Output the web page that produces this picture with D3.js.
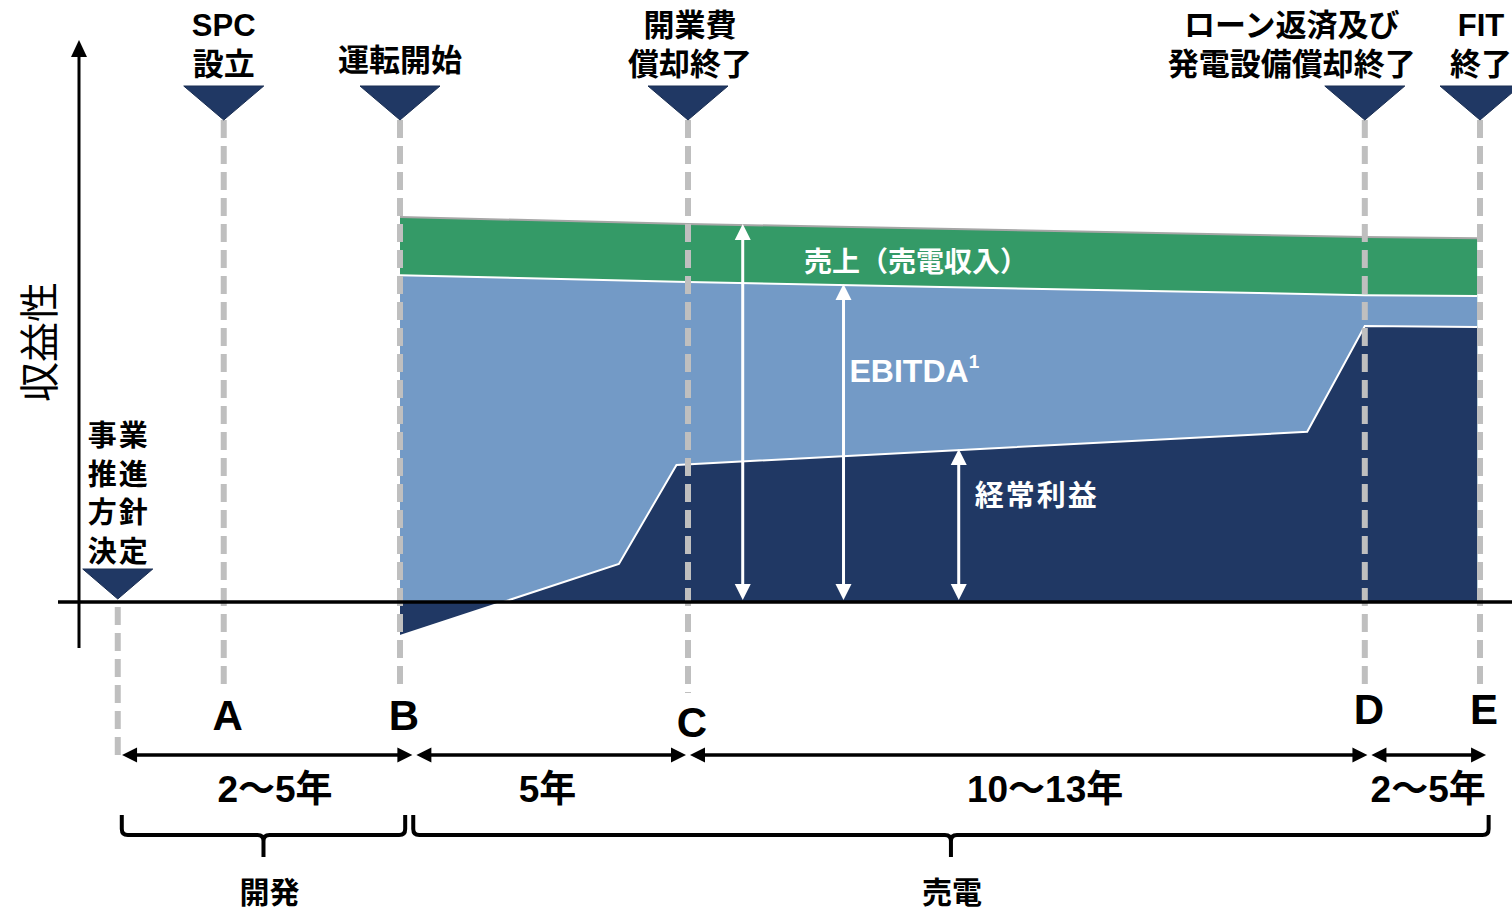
<!DOCTYPE html>
<html>
<head>
<meta charset="utf-8">
<script src="https://cdn.jsdelivr.net/npm/d3@7"></script>
<style>
  body { margin: 0; background: #fff; }
  svg { display: block; }
</style>
</head>
<body>
<div id="chart"></div>
<script>
// Milestones, in years from start of operation (B = 0)
const milestoneYears = [-4.9, -3.06, 0, 5, 16.75, 18.75];
const milestoneLabels = [
    ["事業", "推進", "方針", "決定"],
    ["SPC", "設立"],
    ["運転開始"],
    ["開業費", "償却終了"],
    ["ローン返済及び", "発電設備償却終了"],
    ["FIT", "終了"]
];
const milestoneLetters = ["", "A", "B", "C", "D", "E"];

// Revenue / EBITDA (index, first year sales = 100)
const seriesYears = [0, 5, 16.75, 18.7];
const salesValues = [100, 98.2, 94.8, 94.5];
const ebitdaValues = [84.9, 83.1, 79.7, 79.5];

// Ordinary profit
const profitYears = [0, 3.8, 4.8, 15.75, 16.75, 18.7];
const profitValues = [-8.8, 9.9, 35.6, 44.2, 71.7, 71.4];

// Durations along the bottom
const periodBounds = [[-4.86, 0.25], [0.25, 5.0], [5.0, 16.83], [16.83, 18.89]];
const periodLabels = ["2〜5年", "5年", "10〜13年", "2〜5年"];
const periodLabelYears = [-2.17, 2.56, 11.2, 17.85];

const phaseBounds = [[-4.83, 0.09], [0.23, 18.9]];
const phaseLabels = ["開発", "売電"];

// White measurement arrows: sales, EBITDA, ordinary profit
const arrowYears = [5.95, 7.7, 9.7];

const width = 1512, height = 915;
const LATIN = "'Liberation Sans', Arial, 'Noto Sans CJK JP', sans-serif";
const CJK = "'Noto Sans CJK JP', 'Noto Sans CJK SC', sans-serif";
const navy = "#203864", blue = "#739ac6", green = "#349a67", dashGray = "#bfbfbf";

const svg = d3.select("#chart")
    .append("svg")
    .attr("width", width)
    .attr("height", height);

// Scales
const x = d3.scaleLinear().domain([0, 5]).range([400, 688]);
const y = d3.scaleLinear().domain([0, 100]).range([602, 217]);

const salesAt = d3.scaleLinear().domain(seriesYears).range(salesValues);
const ebitdaAt = d3.scaleLinear().domain(seriesYears).range(ebitdaValues);
const profitAt = d3.scaleLinear().domain(profitYears).range(profitValues);

const sales = seriesYears.map((t, i) => [t, salesValues[i]]);
const ebitda = seriesYears.map((t, i) => [t, ebitdaValues[i]]);
const profit = profitYears.map((t, i) => [t, profitValues[i]]);

const area = d3.area().x(d => x(d[0])).y0(y(0)).y1(d => y(d[1]));
const line = d3.line().x(d => x(d[0])).y(d => y(d[1]));

// simple triangle arrow head, tip at (tx,ty) pointing along (dx,dy)
function head(g, tx, ty, dx, dy, len, half, color) {
    const bx = tx - dx * len, by = ty - dy * len;
    g.append("path")
        .attr("d", `M${tx},${ty}L${bx - dy * half},${by + dx * half}L${bx + dy * half},${by - dx * half}Z`)
        .attr("fill", color);
}

// Areas
svg.append("path").datum(sales).attr("d", area).attr("fill", green);
svg.append("path").datum(ebitda).attr("d", area).attr("fill", blue);
svg.append("path").datum(profit).attr("d", area).attr("fill", navy);

svg.append("path").datum(sales).attr("d", line)
    .attr("fill", "none").attr("stroke", "#a6a6a6").attr("stroke-width", 2);
svg.append("path").datum(ebitda).attr("d", line)
    .attr("fill", "none").attr("stroke", "#fff").attr("stroke-width", 2);
svg.append("path").datum(profit).attr("d", line)
    .attr("fill", "none").attr("stroke", "#fff").attr("stroke-width", 2);

// Dashed milestone lines
const dashStart = [607, 120, 120, 120, 120, 120];
const dashEnd = [755, 688, 688, 693, 684, 684];
milestoneYears.forEach((t, i) => {
    svg.append("line")
        .attr("x1", x(t)).attr("x2", x(t))
        .attr("y1", dashStart[i]).attr("y2", dashEnd[i])
        .attr("stroke", dashGray)
        .attr("stroke-width", 6)
        .attr("stroke-dasharray", "18,8");
});

// Axes
const axisX = 79;
svg.append("line")
    .attr("x1", axisX).attr("x2", axisX)
    .attr("y1", 54).attr("y2", 648)
    .attr("stroke", "#000").attr("stroke-width", 3);
head(svg, axisX, 40, 0, -1, 17, 8, "#000");

svg.append("line")
    .attr("x1", 58).attr("x2", width)
    .attr("y1", y(0)).attr("y2", y(0))
    .attr("stroke", "#000").attr("stroke-width", 3.5);

svg.append("text")
    .attr("transform", `translate(54,342) rotate(-90)`)
    .attr("text-anchor", "middle")
    .style("font-family", CJK)
    .style("font-size", "40px")
    .text("収益性");

// Triangles
milestoneYears.forEach((t, i) => {
    const cx = x(t);
    const top = i === 0 ? 569 : 86, tip = i === 0 ? 599 : 120, half = i === 0 ? 35 : 40;
    svg.append("path")
        .attr("d", `M${cx - half},${top}L${cx + half},${top}L${cx},${tip}Z`)
        .attr("fill", navy)
        .attr("stroke", "#1a2e52")
        .attr("stroke-width", 1);
});

// Milestone labels
milestoneLabels.forEach((lines, i) => {
    const cx = x(milestoneYears[i]);
    let lx, baselines, size, spacing = 0;
    if (i === 0) {
        lx = cx + 1; size = 29; spacing = 2;
        baselines = lines.map((d, j) => 446 + j * 38.5);
    } else {
        size = 31;
        lx = i === 4 ? cx - 73 : i === 5 ? cx + 1 : i === 3 ? cx + 2 : cx;
        baselines = lines.length === 1 ? [71] : [36, 75];
    }
    lines.forEach((txt, j) => {
        svg.append("text")
            .attr("x", lx)
            .attr("y", baselines[j])
            .attr("text-anchor", "middle")
            .style("font-family", LATIN)
            .style("font-weight", "bold")
            .style("font-size", size + "px")
            .style("letter-spacing", spacing + "px")
            .text(txt);
    });
});

// Letters A-E
const letterY = [0, 730, 730, 737, 724, 724];
milestoneLetters.forEach((l, i) => {
    if (!l) return;
    svg.append("text")
        .attr("x", x(milestoneYears[i]) + 4)
        .attr("y", letterY[i])
        .attr("text-anchor", "middle")
        .style("font-family", LATIN)
        .style("font-weight", "bold")
        .style("font-size", "42px")
        .text(l);
});

// White measurement arrows
const arrowTops = [salesAt(arrowYears[0]), ebitdaAt(arrowYears[1]), profitAt(arrowYears[2])];
arrowYears.forEach((t, i) => {
    const ax = x(t), yt = y(arrowTops[i]) - 1, yb = y(0) - 2;
    svg.append("line")
        .attr("x1", ax).attr("x2", ax)
        .attr("y1", yt + 12).attr("y2", yb - 12)
        .attr("stroke", "#fff").attr("stroke-width", 3);
    head(svg, ax, yt, 0, -1, 16, 8, "#fff");
    head(svg, ax, yb, 0, 1, 16, 8, "#fff");
});

svg.append("text")
    .attr("x", 916).attr("y", 272)
    .attr("text-anchor", "middle")
    .attr("fill", "#fff")
    .style("font-family", CJK)
    .style("font-weight", "bold")
    .style("font-size", "28px")
    .text("売上（売電収入）");

const ebitdaText = svg.append("text")
    .attr("x", x(arrowYears[1]) + 6).attr("y", 382)
    .attr("fill", "#fff")
    .style("font-family", LATIN)
    .style("font-weight", "bold")
    .style("font-size", "32px");
ebitdaText.append("tspan").text("EBITDA");
ebitdaText.append("tspan").attr("dy", -14).style("font-size", "19px").text("1");

svg.append("text")
    .attr("x", x(arrowYears[2]) + 16).attr("y", 506)
    .attr("fill", "#fff")
    .style("font-family", CJK)
    .style("font-weight", "bold")
    .style("font-size", "29px")
    .style("letter-spacing", "2px")
    .text("経常利益");

// Duration arrows
const timeY = 755;
periodBounds.forEach((b, i) => {
    const x0 = x(b[0]) + 2, x1 = x(b[1]) - 2;
    svg.append("line")
        .attr("x1", x0 + 10).attr("x2", x1 - 10)
        .attr("y1", timeY).attr("y2", timeY)
        .attr("stroke", "#000").attr("stroke-width", 3.5);
    head(svg, x0, timeY, -1, 0, 15, 7.5, "#000");
    head(svg, x1, timeY, 1, 0, 15, 7.5, "#000");

    svg.append("text")
        .attr("x", x(periodLabelYears[i]))
        .attr("y", 802)
        .attr("text-anchor", "middle")
        .style("font-family", LATIN)
        .style("font-weight", "bold")
        .style("font-size", "37px")
        .text(periodLabels[i]);
});

// Phase braces
function bracePath(x0, x1, yTop, yMid, yTip, r) {
    const xm = (x0 + x1) / 2;
    return `M${x0},${yTop}V${yMid - r}Q${x0},${yMid} ${x0 + r},${yMid}H${xm - r}Q${xm},${yMid} ${xm},${yMid + r}V${yTip}` +
        `M${xm},${yMid + r}Q${xm},${yMid} ${xm + r},${yMid}H${x1 - r}Q${x1},${yMid} ${x1},${yMid - r}V${yTop}`;
}
phaseBounds.forEach((b, i) => {
    const x0 = x(b[0]), x1 = x(b[1]);
    svg.append("path")
        .attr("d", bracePath(x0, x1, 815, 835, 857, 6))
        .attr("fill", "none")
        .attr("stroke", "#000")
        .attr("stroke-width", 4);
    svg.append("text")
        .attr("x", (x0 + x1) / 2 + (i === 0 ? 6 : 1))
        .attr("y", 903)
        .attr("text-anchor", "middle")
        .style("font-family", CJK)
        .style("font-weight", "bold")
        .style("font-size", "30px")
        .text(phaseLabels[i]);
});
</script>
</body>
</html>
